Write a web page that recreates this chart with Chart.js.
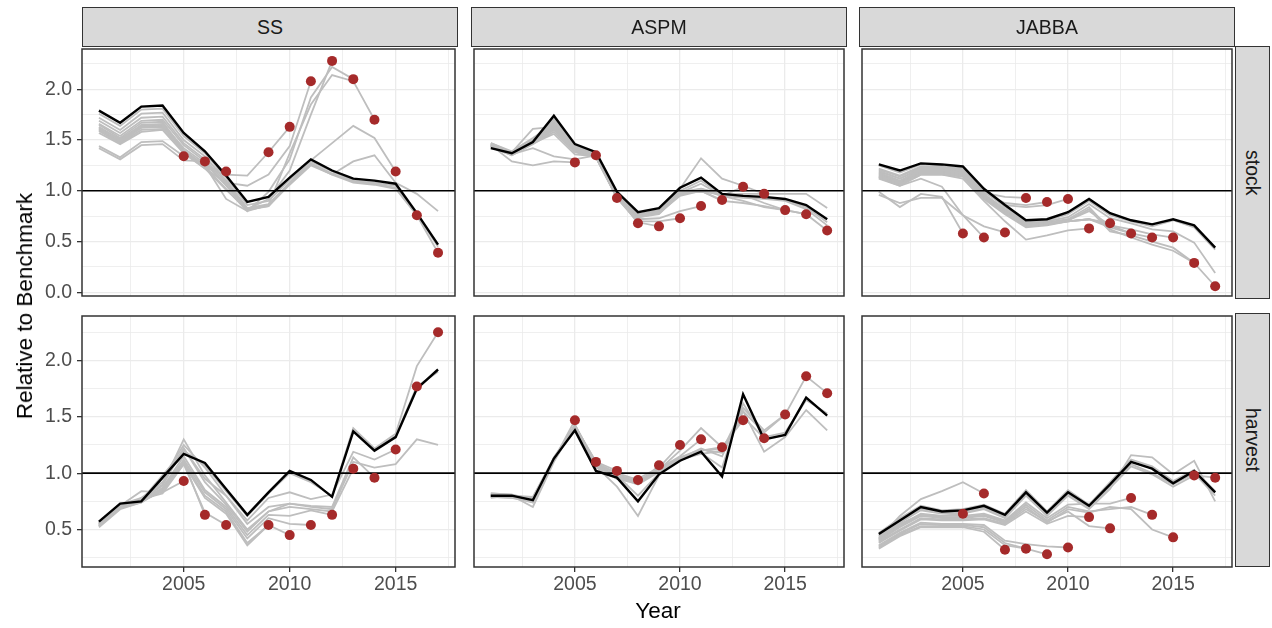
<!DOCTYPE html>
<html>
<head>
<meta charset="utf-8">
<title>Retrospective peels relative to benchmark</title>
<script src="https://cdn.jsdelivr.net/npm/chart.js@4/dist/chart.umd.min.js"></script>
<style>
  body { margin: 0; background: #fff; }
  #fig { position: relative; width: 1272px; height: 628px; font-family: "Liberation Sans", Arial, sans-serif; overflow: hidden; }
  #fig canvas { position: absolute; }
  .strip { position: absolute; box-sizing: border-box; background: #d9d9d9; border: 1.5px solid #333; color: #1a1a1a;
           font-size: 19.5px; display: flex; align-items: center; justify-content: center; }
  .strip.side span { writing-mode: vertical-rl; }
  .title { position: absolute; font-size: 22.5px; color: #000; white-space: nowrap; transform: translate(-50%, -50%); }
  .title.rot { transform: translate(-50%, -50%) rotate(-90deg); }
</style>
</head>
<body>
<div id="fig"></div>
<script>
const years = [2001, 2002, 2003, 2004, 2005, 2006, 2007, 2008, 2009, 2010, 2011, 2012, 2013, 2014, 2015, 2016, 2017];
const models = ["SS", "ASPM", "JABBA"];
const quantities = ["stock", "harvest"];

// stock
const ssStockRef = [1.79, 1.67, 1.83, 1.84, 1.57, 1.39, 1.15, 0.89, 0.94, 1.13, 1.31, 1.20, 1.12, 1.10, 1.07, 0.78, 0.47];
const ssStockPeels = [
  [1.76, 1.64, 1.80, 1.81, 1.54, 1.37, 1.13, 0.86, 0.90, 1.11, 1.29, 1.19, 1.10, 1.08, 1.05, 0.77, 0.45],
  [1.72, 1.60, 1.76, 1.77, 1.50, 1.34, 1.10, 0.83, 0.87, 1.08, 1.27, 1.17, 1.09, 1.07, 1.03, 0.76, 0.39],
  [1.69, 1.57, 1.72, 1.73, 1.47, 1.31, 1.08, 0.82, 0.86, 1.07, 1.26, 1.16, 1.08, 1.06, 1.02, 0.76],
  [1.66, 1.54, 1.69, 1.70, 1.45, 1.29, 1.06, 0.82, 0.85, 1.06, 1.25, 1.16, 1.29, 1.35, 1.08, 0.97, 0.80],
  [1.63, 1.50, 1.65, 1.66, 1.42, 1.27, 1.05, 0.81, 0.85, 1.08, 1.30, 1.47, 1.64, 1.52, 1.19],
  [1.61, 1.48, 1.62, 1.63, 1.40, 1.25, 0.92, 0.80, 0.86, 1.37, 1.85, 2.14, 2.08, 1.70],
  [1.59, 1.47, 1.60, 1.61, 1.38, 1.24, 1.02, 0.80, 0.99, 1.31, 1.92, 2.22, 2.10],
  [1.57, 1.46, 1.58, 1.60, 1.37, 1.22, 1.01, 0.82, 0.92, 1.20, 1.75, 2.28],
  [1.60, 1.49, 1.63, 1.64, 1.38, 1.22, 1.08, 1.05, 1.16, 1.44, 2.08],
  [1.62, 1.51, 1.64, 1.65, 1.39, 1.23, 1.16, 1.15, 1.38, 1.63],
  [1.65, 1.52, 1.67, 1.68, 1.40, 1.24, 1.19],
  [1.42, 1.31, 1.45, 1.46, 1.30, 1.29],
  [1.44, 1.33, 1.48, 1.49, 1.34]
];
const ssStockPtYears = [2005, 2006, 2007, 2009, 2010, 2011, 2012, 2013, 2014, 2015, 2016, 2017];
const ssStockPts = [1.34, 1.29, 1.19, 1.38, 1.63, 2.08, 2.28, 2.10, 1.70, 1.19, 0.76, 0.39];

const aspmStockRef = [1.42, 1.37, 1.48, 1.74, 1.46, 1.38, 0.99, 0.79, 0.83, 1.03, 1.13, 0.97, 0.95, 0.94, 0.92, 0.86, 0.72];
const aspmStockPeels = [
  [1.45, 1.38, 1.50, 1.72, 1.45, 1.37, 0.98, 0.77, 0.81, 1.00, 1.10, 0.96, 0.94, 0.93, 0.91, 0.84, 0.69],
  [1.44, 1.37, 1.49, 1.70, 1.44, 1.36, 0.97, 0.76, 0.80, 0.98, 1.07, 0.95, 0.93, 0.92, 0.90, 0.82, 0.66],
  [1.46, 1.38, 1.48, 1.68, 1.42, 1.35, 0.96, 0.75, 0.78, 0.95, 1.00, 0.90, 0.88, 0.85, 0.81, 0.77, 0.61],
  [1.47, 1.39, 1.52, 1.66, 1.43, 1.36, 0.97, 0.75, 0.79, 0.98, 0.99, 0.97, 0.97, 0.97, 0.97, 0.97, 0.83],
  [1.45, 1.37, 1.50, 1.64, 1.42, 1.35, 0.96, 0.75, 0.79, 0.97, 1.02, 0.97, 0.96, 0.88, 0.81, 0.77],
  [1.44, 1.36, 1.49, 1.62, 1.41, 1.34, 0.95, 0.74, 0.78, 0.96, 1.01, 0.95, 0.90, 0.84, 0.81],
  [1.46, 1.38, 1.51, 1.65, 1.43, 1.35, 0.96, 0.76, 0.80, 1.02, 1.32, 1.12, 1.05, 0.97],
  [1.45, 1.37, 1.50, 1.63, 1.42, 1.34, 0.95, 0.75, 0.79, 0.99, 1.02, 0.95, 1.04],
  [1.44, 1.36, 1.48, 1.61, 1.40, 1.33, 0.94, 0.74, 0.77, 0.97, 1.00, 0.91],
  [1.43, 1.35, 1.47, 1.60, 1.39, 1.33, 0.94, 0.72, 0.73, 0.80, 0.85],
  [1.43, 1.35, 1.46, 1.58, 1.38, 1.33, 0.93, 0.70, 0.70, 0.73],
  [1.44, 1.36, 1.47, 1.56, 1.36, 1.34, 0.93, 0.69, 0.65],
  [1.44, 1.37, 1.49, 1.66, 1.42, 1.34, 0.95, 0.68],
  [1.47, 1.38, 1.61, 1.63, 1.42, 1.33, 0.93],
  [1.46, 1.36, 1.42, 1.34, 1.31, 1.35],
  [1.45, 1.29, 1.25, 1.29, 1.28]
];
const aspmStockPtYears = [2005, 2006, 2007, 2008, 2009, 2010, 2011, 2012, 2013, 2014, 2015, 2016, 2017];
const aspmStockPts = [1.28, 1.35, 0.93, 0.68, 0.65, 0.73, 0.85, 0.91, 1.04, 0.97, 0.81, 0.77, 0.61];

const jabbaStockRef = [1.26, 1.20, 1.27, 1.26, 1.24, 1.02, 0.86, 0.71, 0.72, 0.79, 0.92, 0.78, 0.71, 0.67, 0.72, 0.66, 0.44];
const jabbaStockPeels = [
  [1.25, 1.18, 1.26, 1.25, 1.22, 1.00, 0.84, 0.69, 0.71, 0.77, 0.90, 0.76, 0.70, 0.65, 0.71, 0.64, 0.42],
  [1.20, 1.12, 1.22, 1.22, 1.20, 0.97, 0.82, 0.68, 0.70, 0.74, 0.87, 0.73, 0.68, 0.62, 0.60, 0.49, 0.19],
  [1.18, 1.10, 1.20, 1.20, 1.18, 0.96, 0.81, 0.67, 0.69, 0.72, 0.84, 0.62, 0.54, 0.47, 0.41, 0.29, 0.06],
  [1.17, 1.09, 1.19, 1.19, 1.17, 0.95, 0.80, 0.66, 0.68, 0.71, 0.82, 0.60, 0.56, 0.50, 0.44, 0.29],
  [1.16, 1.08, 1.19, 1.19, 1.17, 0.95, 0.80, 0.66, 0.68, 0.71, 0.80, 0.66, 0.62, 0.57, 0.54],
  [1.15, 1.07, 1.18, 1.18, 1.16, 0.94, 0.79, 0.65, 0.67, 0.70, 0.72, 0.64, 0.58, 0.54],
  [1.14, 1.06, 1.17, 1.17, 1.15, 0.93, 0.78, 0.65, 0.67, 0.70, 0.72, 0.66, 0.58],
  [1.13, 1.05, 1.16, 1.16, 1.14, 0.92, 0.77, 0.64, 0.66, 0.70, 0.72, 0.68],
  [1.14, 1.06, 1.16, 1.16, 1.12, 0.90, 0.70, 0.52, 0.56, 0.61, 0.63],
  [1.22, 1.15, 1.24, 1.24, 1.21, 0.99, 0.86, 0.84, 0.86, 0.92],
  [1.21, 1.14, 1.23, 1.23, 1.20, 0.98, 0.88, 0.86, 0.89],
  [1.19, 1.12, 1.21, 1.21, 1.19, 0.98, 0.94, 0.93],
  [1.12, 1.05, 1.12, 1.04, 0.76, 0.65, 0.59],
  [0.96, 0.88, 0.93, 0.93, 0.76, 0.54],
  [0.99, 0.84, 0.97, 0.94, 0.58]
];
const jabbaStockPtYears = [2005, 2006, 2007, 2008, 2009, 2010, 2011, 2012, 2013, 2014, 2015, 2016, 2017];
const jabbaStockPts = [0.58, 0.54, 0.59, 0.93, 0.89, 0.92, 0.63, 0.68, 0.58, 0.54, 0.54, 0.29, 0.06];

// harvest
const ssHarvRef = [0.57, 0.73, 0.75, 0.96, 1.17, 1.09, 0.86, 0.63, 0.83, 1.02, 0.94, 0.79, 1.37, 1.20, 1.32, 1.75, 1.92];
const ssHarvPeels = [
  [0.56, 0.72, 0.76, 0.98, 1.20, 1.07, 0.84, 0.62, 0.82, 1.00, 0.92, 0.80, 1.40, 1.22, 1.35, 1.95, 2.25],
  [0.55, 0.71, 0.75, 0.97, 1.18, 1.08, 0.85, 0.62, 0.82, 1.01, 0.93, 0.79, 1.38, 1.21, 1.33, 1.77, 1.90],
  [0.54, 0.70, 0.74, 0.95, 1.25, 1.05, 0.80, 0.58, 0.78, 0.83, 0.77, 0.81, 1.19, 1.12, 1.21],
  [0.53, 0.69, 0.78, 0.92, 1.22, 0.95, 0.80, 0.55, 0.70, 0.73, 0.70, 0.68, 1.10, 1.05, 1.08, 1.30, 1.25],
  [0.55, 0.70, 0.77, 0.90, 1.30, 0.98, 0.74, 0.50, 0.66, 0.73, 0.71, 0.70, 1.14, 0.96],
  [0.56, 0.71, 0.76, 0.89, 1.22, 0.92, 0.72, 0.48, 0.66, 0.70, 0.68, 0.66, 1.04],
  [0.54, 0.70, 0.75, 0.87, 1.15, 0.85, 0.70, 0.45, 0.63, 0.62, 0.67, 0.63],
  [0.53, 0.69, 0.74, 0.86, 1.12, 0.83, 0.68, 0.42, 0.60, 0.55, 0.54],
  [0.52, 0.68, 0.74, 0.85, 1.10, 0.80, 0.66, 0.38, 0.54, 0.45],
  [0.53, 0.69, 0.75, 0.84, 1.08, 0.78, 0.64, 0.36, 0.54],
  [0.55, 0.71, 0.77, 0.82, 1.08, 0.65, 0.54],
  [0.56, 0.72, 0.78, 0.85, 1.10, 0.63],
  [0.57, 0.71, 0.84, 0.83, 0.93]
];
const ssHarvPtYears = [2005, 2006, 2007, 2009, 2010, 2011, 2012, 2013, 2014, 2015, 2016, 2017];
const ssHarvPts = [0.93, 0.63, 0.54, 0.54, 0.45, 0.54, 0.63, 1.04, 0.96, 1.21, 1.77, 2.25];

const aspmHarvRef = [0.80, 0.80, 0.76, 1.13, 1.38, 1.02, 0.96, 0.75, 0.99, 1.11, 1.19, 0.97, 1.70, 1.30, 1.34, 1.67, 1.51];
const aspmHarvPeels = [
  [0.82, 0.81, 0.77, 1.12, 1.40, 1.05, 0.98, 0.80, 1.00, 1.12, 1.18, 1.05, 1.62, 1.32, 1.36, 1.65, 1.53],
  [0.78, 0.80, 0.70, 1.10, 1.42, 1.06, 0.88, 0.62, 0.98, 1.13, 1.22, 1.15, 1.55, 1.19, 1.32, 1.56, 1.38],
  [0.80, 0.79, 0.78, 1.14, 1.40, 1.07, 0.96, 0.92, 1.02, 1.12, 1.17, 1.20, 1.58, 1.38, 1.52, 1.86, 1.71],
  [0.81, 0.80, 0.79, 1.13, 1.41, 1.08, 0.97, 0.93, 1.03, 1.14, 1.21, 1.18, 1.55, 1.36, 1.52],
  [0.79, 0.78, 0.76, 1.11, 1.42, 1.07, 0.95, 0.91, 1.02, 1.13, 1.20, 1.22, 1.50, 1.31],
  [0.80, 0.79, 0.75, 1.12, 1.43, 1.08, 0.96, 0.90, 1.01, 1.12, 1.20, 1.23, 1.47],
  [0.81, 0.80, 0.74, 1.13, 1.41, 1.06, 0.95, 0.92, 1.03, 1.20, 1.40, 1.23],
  [0.79, 0.79, 0.76, 1.12, 1.42, 1.07, 0.96, 0.93, 1.04, 1.15, 1.30],
  [0.80, 0.80, 0.77, 1.11, 1.43, 1.08, 0.97, 0.95, 1.05, 1.25],
  [0.82, 0.81, 0.75, 1.12, 1.41, 1.09, 1.00, 0.90, 1.07],
  [0.81, 0.80, 0.76, 1.13, 1.42, 1.08, 1.00, 0.94],
  [0.80, 0.79, 0.75, 1.14, 1.42, 1.10, 1.02],
  [0.79, 0.78, 0.74, 1.12, 1.42, 1.10],
  [0.80, 0.79, 0.78, 1.12, 1.47]
];
const aspmHarvPtYears = [2005, 2006, 2007, 2008, 2009, 2010, 2011, 2012, 2013, 2014, 2015, 2016, 2017];
const aspmHarvPts = [1.47, 1.10, 1.02, 0.94, 1.07, 1.25, 1.30, 1.23, 1.47, 1.31, 1.52, 1.86, 1.71];

const jabbaHarvRef = [0.46, 0.58, 0.70, 0.66, 0.67, 0.71, 0.63, 0.83, 0.65, 0.83, 0.71, 0.90, 1.10, 1.04, 0.91, 1.02, 0.83];
const jabbaHarvPeels = [
  [0.47, 0.60, 0.71, 0.67, 0.68, 0.72, 0.64, 0.85, 0.66, 0.85, 0.72, 0.92, 1.12, 1.06, 0.93, 1.03, 0.84],
  [0.45, 0.58, 0.69, 0.66, 0.66, 0.70, 0.62, 0.82, 0.64, 0.82, 0.70, 0.88, 1.08, 1.00, 0.90, 1.00, 0.80],
  [0.43, 0.56, 0.67, 0.64, 0.64, 0.68, 0.60, 0.80, 0.62, 0.80, 0.68, 0.86, 1.16, 1.14, 0.99, 1.11, 0.75],
  [0.44, 0.57, 0.68, 0.65, 0.65, 0.69, 0.61, 0.81, 0.63, 0.81, 0.69, 0.87, 1.06, 0.99, 0.88, 0.98, 0.96],
  [0.40, 0.52, 0.62, 0.60, 0.60, 0.62, 0.56, 0.70, 0.56, 0.68, 0.65, 0.70, 0.68, 0.50, 0.43],
  [0.41, 0.53, 0.63, 0.61, 0.61, 0.63, 0.57, 0.72, 0.58, 0.70, 0.66, 0.68, 0.70, 0.63],
  [0.42, 0.54, 0.64, 0.62, 0.62, 0.64, 0.58, 0.74, 0.60, 0.72, 0.73, 0.73, 0.78],
  [0.39, 0.50, 0.60, 0.59, 0.59, 0.60, 0.55, 0.68, 0.57, 0.66, 0.53, 0.51],
  [0.38, 0.49, 0.59, 0.58, 0.58, 0.59, 0.54, 0.66, 0.55, 0.62, 0.61],
  [0.36, 0.47, 0.56, 0.55, 0.55, 0.54, 0.40, 0.37, 0.35, 0.34],
  [0.35, 0.46, 0.55, 0.54, 0.54, 0.52, 0.38, 0.33, 0.28],
  [0.34, 0.45, 0.53, 0.53, 0.53, 0.50, 0.36, 0.33],
  [0.33, 0.44, 0.52, 0.52, 0.52, 0.48, 0.32],
  [0.42, 0.62, 0.77, 0.84, 0.92, 0.82],
  [0.41, 0.55, 0.63, 0.62, 0.64]
];
const jabbaHarvPtYears = [2005, 2006, 2007, 2008, 2009, 2010, 2011, 2012, 2013, 2014, 2015, 2016, 2017];
const jabbaHarvPts = [0.64, 0.82, 0.32, 0.33, 0.28, 0.34, 0.61, 0.51, 0.78, 0.63, 0.43, 0.98, 0.96];

const panels = [
  { col: 0, row: 0, ref: ssStockRef, peels: ssStockPeels, ptYears: ssStockPtYears, pts: ssStockPts },
  { col: 1, row: 0, ref: aspmStockRef, peels: aspmStockPeels, ptYears: aspmStockPtYears, pts: aspmStockPts },
  { col: 2, row: 0, ref: jabbaStockRef, peels: jabbaStockPeels, ptYears: jabbaStockPtYears, pts: jabbaStockPts },
  { col: 0, row: 1, ref: ssHarvRef, peels: ssHarvPeels, ptYears: ssHarvPtYears, pts: ssHarvPts },
  { col: 1, row: 1, ref: aspmHarvRef, peels: aspmHarvPeels, ptYears: aspmHarvPtYears, pts: aspmHarvPts },
  { col: 2, row: 1, ref: jabbaHarvRef, peels: jabbaHarvPeels, ptYears: jabbaHarvPtYears, pts: jabbaHarvPts }
];

// layout of the facet grid (pixels)
const colLefts = [82, 471, 859];
const colWidth = 376;
const rowTops = [46, 313];
const rowHeights = [253, 254];
const xMin = 2000.2, xMax = 2017.8;
const yRanges = [[-0.036, 2.397], [0.167, 2.395]];

const fig = document.getElementById("fig");
const tickFont = { family: "'Liberation Sans', Arial, sans-serif", size: 19.5 };

const panelFrame = {
  id: "panelFrame",
  afterDraw(chart) {
    const a = chart.chartArea;
    const c = chart.ctx;
    c.save();
    c.strokeStyle = "#333333";
    c.lineWidth = 1.5;
    c.strokeRect(a.left, a.top, a.right - a.left, a.bottom - a.top);
    c.restore();
  }
};

function toPoints(vals) {
  return vals.map((v, i) => ({ x: years[i], y: v }));
}

function isHalf(v) {
  return Math.abs(v * 2 - Math.round(v * 2)) < 1e-6;
}

function addDiv(cls, text, css) {
  const d = document.createElement("div");
  d.className = cls;
  d.innerHTML = "<span>" + text + "</span>";
  Object.assign(d.style, css);
  fig.appendChild(d);
}

function makePanel(p) {
  const leftAxis = p.col === 0 ? 62 : 0;
  const bottomAxis = p.row === 1 ? 40 : 0;
  const w = colWidth + leftAxis + 4;
  const h = rowHeights[p.row] + bottomAxis + 4;

  const canvas = document.createElement("canvas");
  canvas.width = w;
  canvas.height = h;
  canvas.style.width = w + "px";
  canvas.style.height = h + "px";
  canvas.style.left = (colLefts[p.col] - leftAxis - 2) + "px";
  canvas.style.top = (rowTops[p.row] - 2) + "px";
  fig.appendChild(canvas);

  const datasets = [];
  p.peels.forEach(vals => {
    datasets.push({ data: toPoints(vals), borderColor: "#bebebe", borderWidth: 1.8, pointRadius: 0, order: 4 });
  });
  datasets.push({ data: [{ x: xMin, y: 1 }, { x: xMax, y: 1 }], borderColor: "#000", borderWidth: 1.6, pointRadius: 0, order: 3 });
  datasets.push({ data: toPoints(p.ref), borderColor: "#000", borderWidth: 2.4, pointRadius: 0, order: 2 });
  datasets.push({
    data: p.ptYears.map((yr, i) => ({ x: yr, y: p.pts[i] })),
    showLine: false,
    pointRadius: 5,
    pointBackgroundColor: "#a52a2a",
    pointBorderWidth: 0,
    order: 1
  });

  new Chart(canvas, {
    type: "line",
    data: { datasets: datasets },
    options: {
      responsive: false,
      animation: false,
      devicePixelRatio: 1,
      events: [],
      layout: { padding: 2 },
      elements: { line: { tension: 0 } },
      plugins: { legend: { display: false }, tooltip: { enabled: false } },
      scales: {
        x: {
          type: "linear",
          min: xMin,
          max: xMax,
          afterFit: s => { s.height = bottomAxis; s.paddingLeft = 0; s.paddingRight = 0; },
          border: { display: false },
          grid: {
            color: "#ebebeb",
            lineWidth: c => (c.tick && c.tick.value % 5 === 0 ? 1.3 : 0.8),
            drawTicks: p.row === 1,
            tickLength: 5,
            tickWidth: 1.3,
            tickColor: c => (c.tick && c.tick.value % 5 === 0 ? "#333333" : "rgba(0,0,0,0)")
          },
          ticks: {
            display: p.row === 1,
            stepSize: 2.5,
            includeBounds: false,
            autoSkip: false,
            maxRotation: 0,
            padding: 1,
            color: "#4d4d4d",
            font: tickFont,
            callback: v => (v % 5 === 0 ? String(v) : "")
          }
        },
        y: {
          type: "linear",
          min: yRanges[p.row][0],
          max: yRanges[p.row][1],
          afterFit: s => { s.width = leftAxis; s.paddingTop = 0; s.paddingBottom = 0; },
          border: { display: false },
          grid: {
            color: "#ebebeb",
            lineWidth: c => (c.tick && isHalf(c.tick.value) ? 1.3 : 0.8),
            drawTicks: p.col === 0,
            tickLength: 5,
            tickWidth: 1.3,
            tickColor: c => (c.tick && isHalf(c.tick.value) ? "#333333" : "rgba(0,0,0,0)")
          },
          ticks: {
            display: p.col === 0,
            stepSize: 0.25,
            includeBounds: false,
            autoSkip: false,
            padding: 5,
            color: "#4d4d4d",
            font: tickFont,
            callback: v => (isHalf(v) ? Number(v).toFixed(1) : "")
          }
        }
      }
    },
    plugins: [panelFrame]
  });
}

panels.forEach(makePanel);

models.forEach((m, i) => {
  addDiv("strip", m, { left: colLefts[i] + "px", top: "7px", width: colWidth + "px", height: "40px" });
});
quantities.forEach((q, j) => {
  addDiv("strip side", q, { left: "1235px", top: rowTops[j] + "px", width: "35px", height: rowHeights[j] + "px" });
});
addDiv("title rot", "Relative to Benchmark", { left: "25px", top: "306px" });
addDiv("title", "Year", { left: "658px", top: "611px" });
</script>
</body>
</html>
